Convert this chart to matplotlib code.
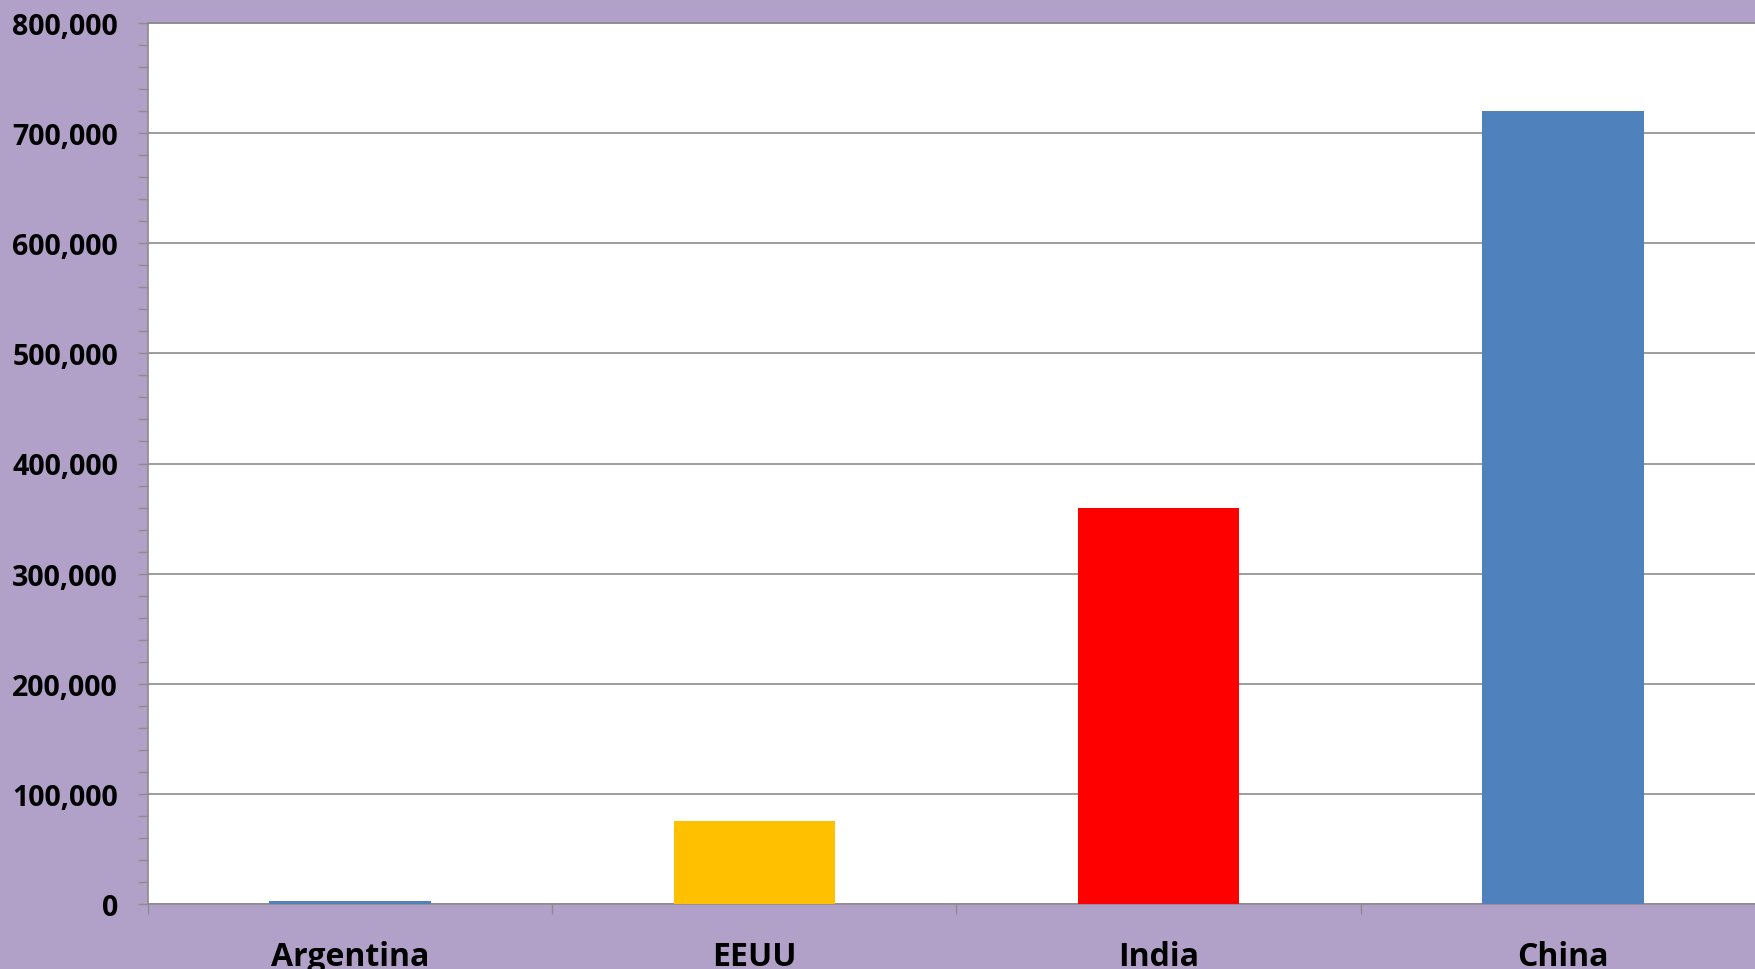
import matplotlib
matplotlib.use("Agg")
import matplotlib.pyplot as plt
from matplotlib.ticker import MultipleLocator, FuncFormatter, FixedLocator

categories = ["Argentina", "EEUU", "India", "China"]
values = [3000, 75000, 360000, 720000]
bar_colors = ["#4F81BD", "#FFC000", "#FF0000", "#4F81BD"]

plt.rcParams['font.family'] = ['Open Sans', 'DejaVu Sans']

W, H = 1756, 970
fig = plt.figure(figsize=(W / 100, H / 100), dpi=100)
bg = "#B1A1C8"
fig.patch.set_facecolor(bg)

left, right, top, bottom = 148, 1765, 24, 905
ax = fig.add_axes([left / W, (H - bottom) / H, (right - left) / W, (bottom - top) / H])
ax.set_facecolor("white")

x = list(range(len(categories)))
ax.bar(x, values, width=0.4, color=bar_colors, zorder=3)

ax.set_xlim(-0.5, len(categories) - 0.5)
ax.set_ylim(0, 800000)

grid_c = "#8C8C8C"
ax.yaxis.set_major_locator(MultipleLocator(100000))
ax.yaxis.set_minor_locator(MultipleLocator(20000))
ax.yaxis.set_major_formatter(FuncFormatter(lambda v, p: f"{v:,.0f}"))
ax.grid(axis="y", which="major", color=grid_c, lw=1.2, zorder=1)

ax.set_xticks(x)
ax.set_xticklabels(categories)
ax.xaxis.set_minor_locator(FixedLocator([i - 0.5 for i in range(len(categories) + 1)]))

ax.tick_params(axis="y", which="both", direction="out", length=7.5, width=1, color=grid_c,
               pad=14, labelsize=20.5)
ax.tick_params(axis="x", which="major", length=0, pad=26, labelsize=23)
ax.tick_params(axis="x", which="minor", direction="out", length=7.5, width=1, color=grid_c)
for lab in ax.get_yticklabels() + ax.get_xticklabels():
    lab.set_fontweight("bold")

for s in ["left", "bottom", "top"]:
    ax.spines[s].set_color(grid_c)
    ax.spines[s].set_linewidth(1.2)
ax.spines["right"].set_visible(False)

fig.savefig("out.png", dpi=100, facecolor=bg)
